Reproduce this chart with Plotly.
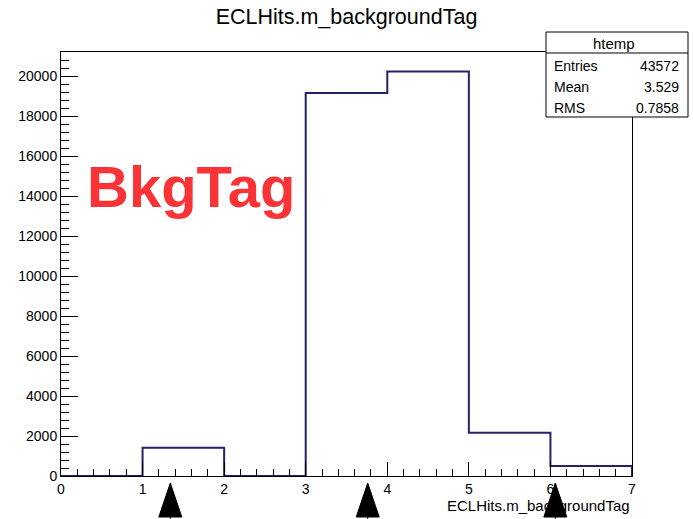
import plotly.graph_objects as go

# ---- data ----
bin_edges = [0, 1, 2, 3, 4, 5, 6, 7]
bin_counts = [0, 1415, 0, 19150, 20230, 2165, 500]
x_ticks = [0, 1, 2, 3, 4, 5, 6, 7]
y_ticks = [0, 2000, 4000, 6000, 8000, 10000, 12000, 14000, 16000, 18000, 20000]
stat_names = ["Entries", "Mean", "RMS"]
stat_values = ["43572", "3.529", "0.7858"]
arrow_x = [1.34, 3.76, 6.06]

W, H = 693, 519
ML, MR, MT, MB = 61, 61, 52, 43
PW, PH = W - ML - MR, H - MT - MB
XMIN, XMAX = 0, 7
YMAX = 21200

FONT = "Liberation Sans, Arial, sans-serif"
HIST_COLOR = "#25226a"

xs = list(bin_edges) + [bin_edges[-1]]
ys = list(bin_counts) + [bin_counts[-1], 0]

fig = go.Figure()
fig.add_trace(go.Scatter(
    x=xs, y=ys, mode="lines", line=dict(shape="hv", color=HIST_COLOR, width=2),
    hoverinfo="skip", showlegend=False,
))

def px_x(p):
    return p / PW

def px_y(p):
    return p / PH

shapes = []
annotations = []

# arrows under the axis
for ax in arrow_x:
    xp = (ax - XMIN) / (XMAX - XMIN)
    hw = px_x(11.5)
    shapes.append(dict(
        type="path", xref="paper", yref="paper",
        path=f"M {xp} {-px_y(7)} L {xp - hw} {-px_y(41)} L {xp + hw} {-px_y(41)} Z",
        fillcolor="black", line=dict(color="black", width=1), layer="above",
    ))
    shapes.append(dict(
        type="line", xref="paper", yref="paper",
        x0=xp, x1=xp, y0=-px_y(41), y1=-px_y(44),
        line=dict(color="black", width=1), layer="above",
    ))

# stats box
bx0, bx1 = px_x(546 - ML), px_x(688 - ML)
by_top = px_y(476 - 32)
by_sep = px_y(476 - 53)
by_bot = px_y(476 - 117)
shapes.append(dict(type="rect", xref="paper", yref="paper",
                   x0=bx0, x1=bx1, y0=by_bot, y1=by_top,
                   fillcolor="white", line=dict(color="black", width=1), layer="above"))
shapes.append(dict(type="line", xref="paper", yref="paper",
                   x0=bx0, x1=bx1, y0=by_sep, y1=by_sep,
                   line=dict(color="black", width=1), layer="above"))
annotations.append(dict(text="htemp", xref="paper", yref="paper",
                        x=px_x(614 - ML), y=px_y(476 - 43), xanchor="center", yanchor="middle",
                        showarrow=False, font=dict(family=FONT, size=15, color="black")))
row_y = [66, 87, 108]
for name, val, ry in zip(stat_names, stat_values, row_y):
    annotations.append(dict(text=name, xref="paper", yref="paper",
                            x=px_x(552 - ML), y=px_y(476 - ry), xanchor="left", yanchor="middle",
                            showarrow=False, font=dict(family=FONT, size=14, color="black")))
    annotations.append(dict(text=val, xref="paper", yref="paper",
                            x=px_x(681 - ML), y=px_y(476 - ry), xanchor="right", yanchor="middle",
                            showarrow=False, font=dict(family=FONT, size=14, color="black")))

# BkgTag label
annotations.append(dict(text="<b>BkgTag</b>", xref="paper", yref="paper",
                        x=px_x(191 - ML), y=px_y(476 - 186), xanchor="center", yanchor="middle",
                        showarrow=False, font=dict(family=FONT, size=58, color="#fa3336")))

# x axis title
annotations.append(dict(text="ECLHits.m_backgroundTag", xref="paper", yref="paper",
                        x=1.0, y=-px_y(505 - 476), xanchor="right", yanchor="middle",
                        showarrow=False, font=dict(family=FONT, size=15, color="black")))

fig.update_layout(
    width=W, height=H, autosize=False,
    margin=dict(l=ML, r=MR, t=MT, b=MB, pad=0),
    paper_bgcolor="white", plot_bgcolor="white",
    title=dict(text="ECLHits.m_backgroundTag", x=0.5, xanchor="center", xref="paper",
               y=1 - 16 / H, yanchor="middle",
               font=dict(family=FONT, size=21.5, color="black")),
    shapes=shapes, annotations=annotations,
    showlegend=False,
)
fig.update_xaxes(
    range=[XMIN, XMAX], tickmode="array", tickvals=x_ticks, ticktext=[str(v) for v in x_ticks],
    ticks="inside", ticklen=14, tickwidth=1, tickcolor="black",
    minor=dict(dtick=0.2, ticks="inside", ticklen=7, tickcolor="black", tickwidth=1, showgrid=False),
    showline=True, linecolor="black", linewidth=1, mirror=True,
    showgrid=False, zeroline=False,
    tickfont=dict(family=FONT, size=14, color="black"),
)
fig.update_yaxes(
    range=[0, YMAX], tickmode="array", tickvals=y_ticks, ticktext=[str(v) for v in y_ticks],
    ticks="inside", ticklen=17, tickwidth=1, tickcolor="black",
    minor=dict(dtick=400, ticks="inside", ticklen=8, tickcolor="black", tickwidth=1, showgrid=False),
    showline=True, linecolor="black", linewidth=1, mirror=True,
    showgrid=False, zeroline=False,
    tickfont=dict(family=FONT, size=14, color="black"),
)

fig.write_html("out.html", config={"displayModeBar": False},
               post_script="document.body.style.margin='0';document.body.style.padding='0';document.body.style.overflow='hidden';")
